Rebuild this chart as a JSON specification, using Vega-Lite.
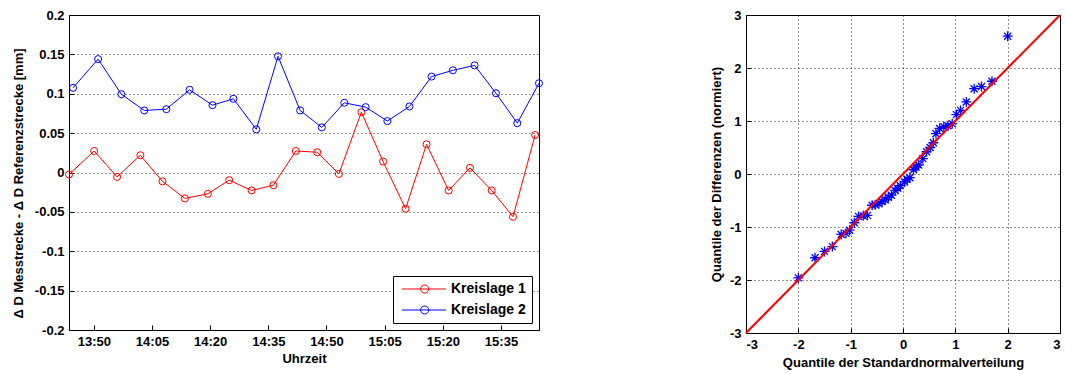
{
  "$schema": "https://vega.github.io/schema/vega-lite/v6.json",
  "background": "white",
  "padding": {"left": 11, "top": 8, "right": 0, "bottom": 0},
  "spacing": 163,
  "resolve": {"legend": {"color": "independent"}},
  "config": {
    "view": {"stroke": "black", "strokeWidth": 1},
    "axis": {
      "labelFont": "Liberation Sans", "labelFontWeight": "bold", "labelFontSize": 13, "labelColor": "black",
      "titleFont": "Liberation Sans", "titleFontWeight": "bold", "titleFontSize": 13, "titleColor": "black",
      "domainColor": "black", "tickColor": "black", "gridColor": "black", "gridDash": [1, 3], "gridWidth": 1, "gridOpacity": 0.85,
      "tickSize": -5, "labelPadding": 10
    },
    "legend": {"labelFont": "Liberation Sans", "labelFontWeight": "bold", "labelFontSize": 14, "labelColor": "black"}
  },
  "datasets": {
    "kreis": [
      {"Zeit": "2013-01-01T13:43:36", "Differenz": -0.0025, "Serie": "Kreislage 1"},
      {"Zeit": "2013-01-01T13:50:06", "Differenz": 0.0273, "Serie": "Kreislage 1"},
      {"Zeit": "2013-01-01T13:56:00", "Differenz": -0.0056, "Serie": "Kreislage 1"},
      {"Zeit": "2013-01-01T14:02:00", "Differenz": 0.0219, "Serie": "Kreislage 1"},
      {"Zeit": "2013-01-01T14:07:42", "Differenz": -0.0112, "Serie": "Kreislage 1"},
      {"Zeit": "2013-01-01T14:13:30", "Differenz": -0.0329, "Serie": "Kreislage 1"},
      {"Zeit": "2013-01-01T14:19:24", "Differenz": -0.0271, "Serie": "Kreislage 1"},
      {"Zeit": "2013-01-01T14:24:54", "Differenz": -0.0097, "Serie": "Kreislage 1"},
      {"Zeit": "2013-01-01T14:30:42", "Differenz": -0.0228, "Serie": "Kreislage 1"},
      {"Zeit": "2013-01-01T14:36:18", "Differenz": -0.0161, "Serie": "Kreislage 1"},
      {"Zeit": "2013-01-01T14:42:06", "Differenz": 0.0273, "Serie": "Kreislage 1"},
      {"Zeit": "2013-01-01T14:47:36", "Differenz": 0.0257, "Serie": "Kreislage 1"},
      {"Zeit": "2013-01-01T14:53:12", "Differenz": -0.0018, "Serie": "Kreislage 1"},
      {"Zeit": "2013-01-01T14:59:00", "Differenz": 0.0767, "Serie": "Kreislage 1"},
      {"Zeit": "2013-01-01T15:04:36", "Differenz": 0.0139, "Serie": "Kreislage 1"},
      {"Zeit": "2013-01-01T15:10:24", "Differenz": -0.0460, "Serie": "Kreislage 1"},
      {"Zeit": "2013-01-01T15:15:48", "Differenz": 0.0358, "Serie": "Kreislage 1"},
      {"Zeit": "2013-01-01T15:21:30", "Differenz": -0.0228, "Serie": "Kreislage 1"},
      {"Zeit": "2013-01-01T15:27:00", "Differenz": 0.0058, "Serie": "Kreislage 1"},
      {"Zeit": "2013-01-01T15:32:36", "Differenz": -0.0228, "Serie": "Kreislage 1"},
      {"Zeit": "2013-01-01T15:38:06", "Differenz": -0.0562, "Serie": "Kreislage 1"},
      {"Zeit": "2013-01-01T15:43:48", "Differenz": 0.0476, "Serie": "Kreislage 1"},
      {"Zeit": "2013-01-01T13:44:39", "Differenz": 0.1075, "Serie": "Kreislage 2"},
      {"Zeit": "2013-01-01T13:51:06", "Differenz": 0.1440, "Serie": "Kreislage 2"},
      {"Zeit": "2013-01-01T13:57:06", "Differenz": 0.0994, "Serie": "Kreislage 2"},
      {"Zeit": "2013-01-01T14:03:00", "Differenz": 0.0788, "Serie": "Kreislage 2"},
      {"Zeit": "2013-01-01T14:08:42", "Differenz": 0.0804, "Serie": "Kreislage 2"},
      {"Zeit": "2013-01-01T14:14:42", "Differenz": 0.1050, "Serie": "Kreislage 2"},
      {"Zeit": "2013-01-01T14:20:36", "Differenz": 0.0855, "Serie": "Kreislage 2"},
      {"Zeit": "2013-01-01T14:26:00", "Differenz": 0.0936, "Serie": "Kreislage 2"},
      {"Zeit": "2013-01-01T14:31:54", "Differenz": 0.0548, "Serie": "Kreislage 2"},
      {"Zeit": "2013-01-01T14:37:30", "Differenz": 0.1475, "Serie": "Kreislage 2"},
      {"Zeit": "2013-01-01T14:43:12", "Differenz": 0.0788, "Serie": "Kreislage 2"},
      {"Zeit": "2013-01-01T14:48:48", "Differenz": 0.0573, "Serie": "Kreislage 2"},
      {"Zeit": "2013-01-01T14:54:36", "Differenz": 0.0885, "Serie": "Kreislage 2"},
      {"Zeit": "2013-01-01T15:00:06", "Differenz": 0.0830, "Serie": "Kreislage 2"},
      {"Zeit": "2013-01-01T15:05:42", "Differenz": 0.0653, "Serie": "Kreislage 2"},
      {"Zeit": "2013-01-01T15:11:24", "Differenz": 0.0839, "Serie": "Kreislage 2"},
      {"Zeit": "2013-01-01T15:17:06", "Differenz": 0.1218, "Serie": "Kreislage 2"},
      {"Zeit": "2013-01-01T15:22:36", "Differenz": 0.1298, "Serie": "Kreislage 2"},
      {"Zeit": "2013-01-01T15:28:12", "Differenz": 0.1360, "Serie": "Kreislage 2"},
      {"Zeit": "2013-01-01T15:33:42", "Differenz": 0.1007, "Serie": "Kreislage 2"},
      {"Zeit": "2013-01-01T15:39:12", "Differenz": 0.0627, "Serie": "Kreislage 2"},
      {"Zeit": "2013-01-01T15:44:48", "Differenz": 0.1133, "Serie": "Kreislage 2"}
    ],
    "qq": [
      {"q": -2.00, "v": -1.96}, {"q": -1.68, "v": -1.58}, {"q": -1.50, "v": -1.46}, {"q": -1.35, "v": -1.37},
      {"q": -1.18, "v": -1.14}, {"q": -1.09, "v": -1.12}, {"q": -1.02, "v": -1.06}, {"q": -0.93, "v": -0.92},
      {"q": -0.85, "v": -0.80}, {"q": -0.76, "v": -0.79}, {"q": -0.68, "v": -0.78}, {"q": -0.59, "v": -0.59},
      {"q": -0.53, "v": -0.58}, {"q": -0.46, "v": -0.56}, {"q": -0.40, "v": -0.52}, {"q": -0.34, "v": -0.49},
      {"q": -0.28, "v": -0.44}, {"q": -0.22, "v": -0.40}, {"q": -0.15, "v": -0.31}, {"q": -0.10, "v": -0.27},
      {"q": -0.05, "v": -0.22}, {"q": 0.03, "v": -0.15}, {"q": 0.08, "v": -0.10}, {"q": 0.13, "v": -0.07},
      {"q": 0.20, "v": 0.08}, {"q": 0.25, "v": 0.13}, {"q": 0.30, "v": 0.17}, {"q": 0.38, "v": 0.29},
      {"q": 0.45, "v": 0.42}, {"q": 0.52, "v": 0.50}, {"q": 0.58, "v": 0.59}, {"q": 0.63, "v": 0.76},
      {"q": 0.70, "v": 0.86}, {"q": 0.78, "v": 0.89}, {"q": 0.86, "v": 0.91}, {"q": 0.94, "v": 0.95},
      {"q": 1.02, "v": 1.12}, {"q": 1.10, "v": 1.20}, {"q": 1.21, "v": 1.36}, {"q": 1.36, "v": 1.61},
      {"q": 1.50, "v": 1.65}, {"q": 1.70, "v": 1.75}, {"q": 2.00, "v": 2.60}
    ],
    "linie": [{"q": -3, "v": -3}, {"q": 3, "v": 3}]
  },
  "hconcat": [
    {
      "width": 470,
      "height": 315,
      "data": {"name": "kreis"},
      "mark": {"type": "line", "strokeWidth": 1, "point": {"filled": false, "shape": "circle", "size": 50, "strokeWidth": 1}},
      "encoding": {
        "x": {
          "field": "Zeit", "type": "temporal",
          "scale": {"domain": [
            {"year": 2013, "month": 1, "date": 1, "hours": 13, "minutes": 43, "seconds": 36},
            {"year": 2013, "month": 1, "date": 1, "hours": 15, "minutes": 44, "seconds": 48}
          ]},
          "axis": {
            "title": "Uhrzeit", "format": "%H:%M", "grid": false, "titlePadding": 4,
            "values": [
              {"year": 2013, "month": 1, "date": 1, "hours": 13, "minutes": 50},
              {"year": 2013, "month": 1, "date": 1, "hours": 14, "minutes": 5},
              {"year": 2013, "month": 1, "date": 1, "hours": 14, "minutes": 20},
              {"year": 2013, "month": 1, "date": 1, "hours": 14, "minutes": 35},
              {"year": 2013, "month": 1, "date": 1, "hours": 14, "minutes": 50},
              {"year": 2013, "month": 1, "date": 1, "hours": 15, "minutes": 5},
              {"year": 2013, "month": 1, "date": 1, "hours": 15, "minutes": 20},
              {"year": 2013, "month": 1, "date": 1, "hours": 15, "minutes": 35}
            ]
          }
        },
        "y": {
          "field": "Differenz", "type": "quantitative",
          "scale": {"domain": [-0.2, 0.2]},
          "axis": {
            "title": "Δ D Messtrecke - Δ D Referenzstrecke [mm]", "titlePadding": 9, "titleY": 168,
            "values": [-0.2, -0.15, -0.1, -0.05, 0, 0.05, 0.1, 0.15, 0.2],
            "labelExpr": "'' + datum.value", "grid": true
          }
        },
        "color": {
          "field": "Serie", "type": "nominal",
          "scale": {"domain": ["Kreislage 1", "Kreislage 2"], "range": ["#ff0000", "#0000ff"]},
          "legend": {
            "title": null, "orient": "bottom-right", "offset": 7,
            "strokeColor": "black", "fillColor": "white", "padding": 6, "rowPadding": 7,
            "symbolType": "M-0.667,0H6.67M2.44,0A0.667,0.667,0,1,0,3.78,0A0.667,0.667,0,1,0,2.44,0",
            "symbolSize": 144, "symbolStrokeWidth": 1, "symbolFillColor": "transparent", "labelOffset": 38
          }
        }
      }
    },
    {
      "width": 314,
      "height": 318,
      "layer": [
        {
          "data": {"name": "qq"},
          "mark": {"type": "point", "shape": "M-1,0H1M0,-1V1M-0.7,-0.7L0.7,0.7M-0.7,0.7L0.7,-0.7", "filled": false, "size": 100, "strokeWidth": 1.3, "color": "#0000ff", "opacity": 1},
          "encoding": {
            "x": {"field": "q", "type": "quantitative", "scale": {"domain": [-3, 3]},
              "axis": {"title": "Quantile der Standardnormalverteilung", "values": [-3, -2, -1, 0, 1, 2, 3], "labelExpr": "'' + datum.value", "grid": true, "titlePadding": 5}},
            "y": {"field": "v", "type": "quantitative", "scale": {"domain": [-3, 3]},
              "axis": {"title": "Quantile der Differenzen (normiert)", "values": [-3, -2, -1, 0, 1, 2, 3], "labelExpr": "'' + datum.value", "grid": true, "titlePadding": 6}}
          }
        },
        {
          "data": {"name": "linie"},
          "mark": {"type": "line", "color": "#ff0000", "strokeWidth": 2},
          "encoding": {
            "x": {"field": "q", "type": "quantitative"},
            "y": {"field": "v", "type": "quantitative"}
          }
        }
      ]
    }
  ]
}
